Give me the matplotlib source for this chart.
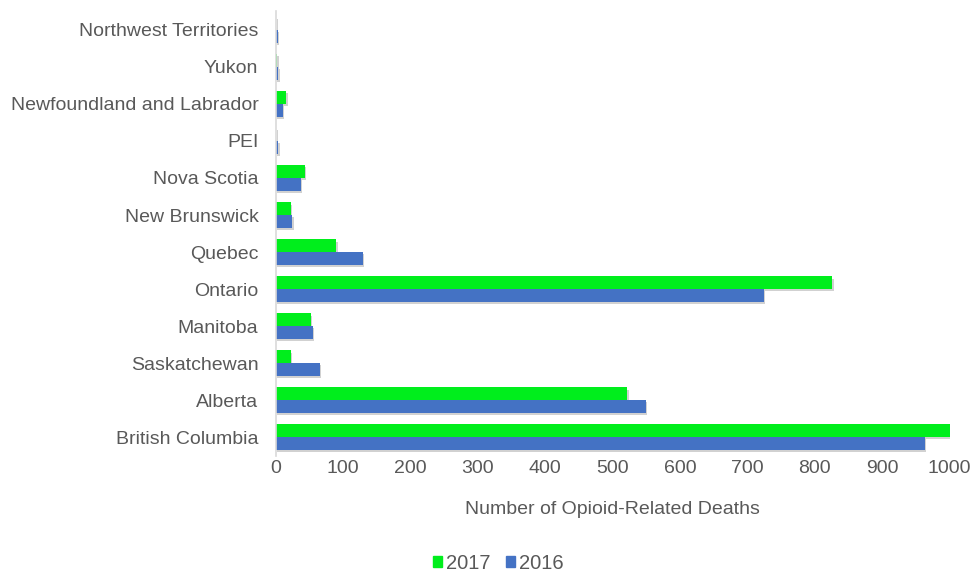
import numpy as np
import matplotlib
matplotlib.use('Agg')
import matplotlib.pyplot as plt
import matplotlib.patheffects as pe
from matplotlib.patches import Patch

# Opioid-related deaths by province / territory
provinces = ['Northwest Territories', 'Yukon', 'Newfoundland and Labrador', 'PEI',
             'Nova Scotia', 'New Brunswick', 'Quebec', 'Ontario', 'Manitoba',
             'Saskatchewan', 'Alberta', 'British Columbia']
deaths_2017 = [1, 2, 15, 1, 43, 22, 90, 826, 52, 22, 521, 1000]
deaths_2016 = [3, 4, 10, 4, 37, 24, 129, 724, 55, 65, 549, 963]

green = '#00EE1C'
blue = '#4472C4'
gray = '#595959'

plt.rcParams['font.family'] = ['Liberation Sans', 'DejaVu Sans']

fig = plt.figure(figsize=(9.71, 5.74), dpi=100)
ax = fig.add_axes([0.284, 0.2064, 0.694, 0.7736])

y = np.arange(len(provinces))
h = 0.34
shadow = [pe.SimplePatchShadow(offset=(1.2, -1.5), shadow_rgbFace='#000000', alpha=0.18), pe.Normal()]
b17 = ax.barh(y - h / 2, deaths_2017, height=h, color=green)
b16 = ax.barh(y + h / 2, deaths_2016, height=h, color=blue)
for bar in list(b17) + list(b16):
    bar.set_path_effects(shadow)

ax.set_ylim(len(provinces) - 0.5, -0.5)
ax.set_xlim(0, 1000)
ax.set_yticks(y)
ax.set_yticklabels(provinces)
ax.set_xticks(np.arange(0, 1001, 100))

for s in ['top', 'right', 'bottom']:
    ax.spines[s].set_visible(False)
ax.spines['left'].set_color('#d9d9d9')
ax.spines['left'].set_linewidth(1.2)
ax.tick_params(axis='both', length=0, colors=gray, labelsize=14)
ax.tick_params(axis='y', pad=12.5)
ax.tick_params(axis='x', pad=3)

ax.set_xlabel('Number of Opioid-Related Deaths', color=gray, fontsize=14, labelpad=17.5)

handles = [Patch(color=green), Patch(color=blue)]
fig.legend(handles=handles, labels=['2017', '2016'], loc='center',
           bbox_to_anchor=(0.513, 0.019), ncol=2, frameon=False, fontsize=14.5,
           labelcolor=gray, handlelength=0.45, handleheight=0.45, handletextpad=0.2,
           columnspacing=0.75)

fig.savefig('out.png', dpi=100)
